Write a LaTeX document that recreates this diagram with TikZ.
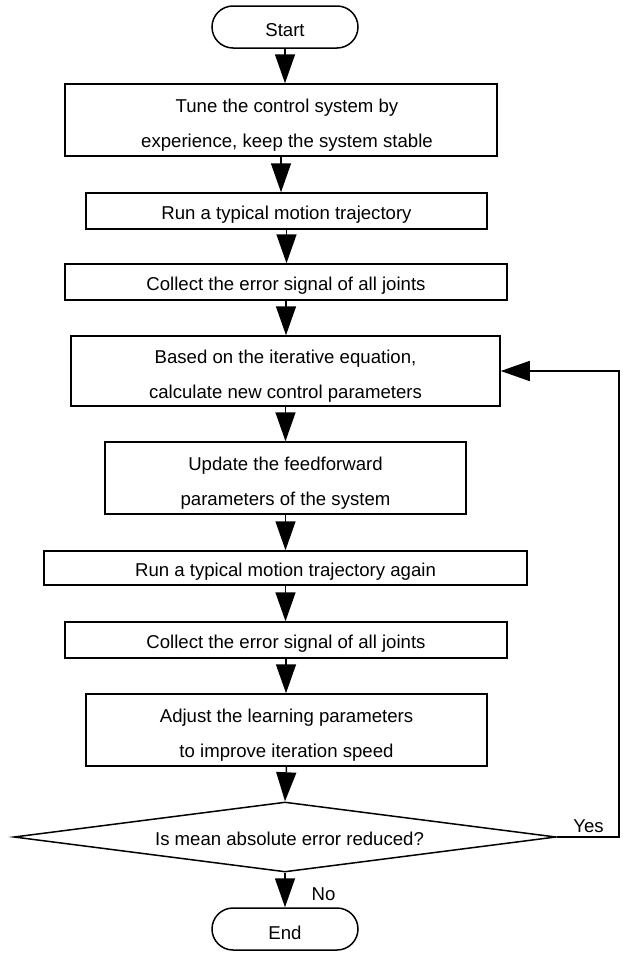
\documentclass[tikz,border=0pt]{standalone}
\usepackage{fontspec}
\setmainfont{Liberation Sans}
\usetikzlibrary{arrows.meta,shapes.geometric}
\begin{document}
\begin{tikzpicture}[x=1pt,y=-1pt,
  every node/.style={font=\fontsize{18.6}{35}\selectfont, text=black},
  boxline/.style={draw, line width=1.5pt, inner sep=0pt},
  proc/.style={boxline},
  txt/.style={label={[align=center, yshift=-3.5pt]center:#1}},
  txtt/.style={label={[align=center, yshift=-5pt]center:#1}},
  term/.style={boxline, rounded corners=21pt, minimum width=146pt, minimum height=42pt},
  flow/.style={line width=1.5pt, -{Triangle[length=29pt,width=20pt]}}]
\useasboundingbox (0,0) rectangle (622,953);
\node[term, txt={Start}] (start) at (285,27) {};
\node[proc, minimum width=432pt, minimum height=72pt,
  label={[align=center, xshift=6pt, yshift=-5pt]center:Tune the control system by\\experience, keep the system stable}] (b1) at (281,120) {};
\node[proc, minimum width=401pt, minimum height=36pt,
  txt={Run a typical motion trajectory}] (b2) at (286.5,211) {};
\node[proc, minimum width=442pt, minimum height=36pt,
  txt={Collect the error signal of all joints}] (b3) at (286,282) {};
\node[proc, minimum width=429pt, minimum height=70pt,
  txtt={Based on the iterative equation,\\calculate new control parameters}] (b4) at (285.5,371) {};
\node[proc, minimum width=361pt, minimum height=72pt,
  txtt={Update the feedforward\\parameters of the system}] (b5) at (285.5,478) {};
\node[proc, minimum width=483pt, minimum height=34pt,
  txt={Run a typical motion trajectory again}] (b6) at (285.5,568) {};
\node[proc, minimum width=442pt, minimum height=36pt,
  txt={Collect the error signal of all joints}] (b7) at (286,640) {};
\node[proc, minimum width=401pt, minimum height=72pt,
  txtt={Adjust the learning parameters\\to improve iteration speed}] (b8) at (286.5,730) {};
\node[diamond, boxline, aspect=7.74, minimum height=70pt, minimum width=542pt,
  label={[xshift=4.5pt, yshift=-2pt]center:Is mean absolute error reduced?}] (d) at (285,837) {};
\node[term, txt={End}] (end) at (285,929) {};
\coordinate (c1) at (619,837);
\coordinate (c2) at (619,371);
\draw[flow] (start) -- (start|-b1.north);
\draw[flow] (b1) -- (b1|-b2.north);
\draw[flow] (b2) -- (b2|-b3.north);
\draw[flow] (b3) -- (b3|-b4.north);
\draw[flow] (b4) -- (b4|-b5.north);
\draw[flow] (b5) -- (b5|-b6.north);
\draw[flow] (b6) -- (b6|-b7.north);
\draw[flow] (b7) -- (b7|-b8.north);
\draw[flow] (b8.south) -- (d.north);
\draw[flow] (d.south) -- (end.north);
\draw[flow] (d.east) -- (c1) -- (c2) -- (b4.east);
\node (yes) at (588.5,826.5) {Yes};
\node (no) at (323.5,894) {No};
\end{tikzpicture}
\end{document}
